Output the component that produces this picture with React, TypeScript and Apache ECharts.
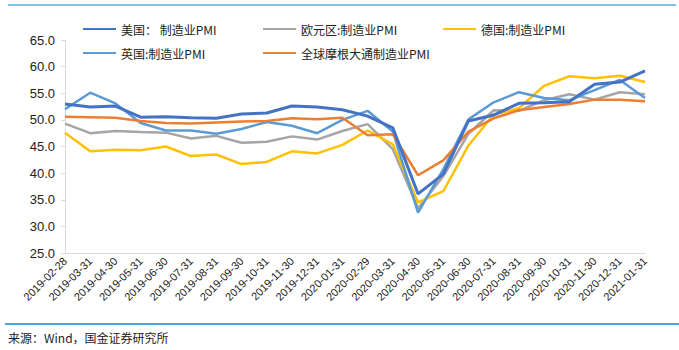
import React, { useEffect, useRef } from "react";
import * as echarts from "echarts";

const categories = [
  "2019-02-28", "2019-03-31", "2019-04-30", "2019-05-31", "2019-06-30", "2019-07-31",
  "2019-08-31", "2019-09-30", "2019-10-31", "2019-11-30", "2019-12-31", "2020-01-31",
  "2020-02-29", "2020-03-31", "2020-04-30", "2020-05-31", "2020-06-30", "2020-07-31",
  "2020-08-31", "2020-09-30", "2020-10-31", "2020-11-30", "2020-12-31", "2021-01-31",
];

const usPMI = [53.0, 52.4, 52.6, 50.5, 50.6, 50.4, 50.3, 51.1, 51.3, 52.6, 52.4, 51.9, 50.7, 48.5, 36.1, 39.8, 49.8, 50.9, 53.1, 53.2, 53.4, 56.7, 57.1, 59.2];
const euroPMI = [49.3, 47.5, 47.9, 47.7, 47.6, 46.5, 47.0, 45.7, 45.9, 46.9, 46.3, 47.9, 49.2, 44.5, 33.4, 39.4, 47.4, 51.8, 51.7, 53.7, 54.8, 53.8, 55.2, 54.8];
const dePMI = [47.6, 44.1, 44.4, 44.3, 45.0, 43.2, 43.5, 41.7, 42.1, 44.1, 43.7, 45.3, 48.0, 45.4, 34.5, 36.6, 45.2, 51.0, 52.2, 56.4, 58.2, 57.8, 58.3, 57.1];
const ukPMI = [52.0, 55.1, 53.1, 49.4, 48.0, 48.0, 47.4, 48.3, 49.6, 48.9, 47.5, 50.0, 51.7, 47.8, 32.6, 40.7, 50.1, 53.3, 55.2, 54.1, 53.7, 55.6, 57.5, 54.1];
const globalPMI = [50.6, 50.5, 50.4, 49.8, 49.4, 49.3, 49.5, 49.7, 49.8, 50.3, 50.1, 50.4, 47.1, 47.3, 39.6, 42.4, 47.8, 50.3, 51.8, 52.4, 53.0, 53.8, 53.8, 53.5];

const seriesNames = ["美国： 制造业PMI", "欧元区:制造业PMI", "德国:制造业PMI", "英国:制造业PMI", "全球摩根大通制造业PMI"];
const seriesColors = ["#4472C4", "#A5A5A5", "#FFC000", "#5B9BD5", "#ED7D31"];
const seriesData = [usPMI, euroPMI, dePMI, ukPMI, globalPMI];
const sourceText = "来源：Wind，国金证券研究所";

export default function App() {
  const ref = useRef<HTMLDivElement>(null);
  useEffect(() => {
    if (!ref.current) return;
    const chart = echarts.init(ref.current, null, { renderer: "svg" });
    const legendBase = {
      orient: "vertical",
      top: 18,
      itemWidth: 33,
      itemHeight: 12,
      itemGap: 12,
      itemStyle: { opacity: 0 },
      textStyle: { fontSize: 12, color: "#222", fontFamily: "Noto Sans CJK SC, Liberation Sans, sans-serif" },
      selectedMode: false,
    };
    chart.setOption({
      animation: false,
      backgroundColor: "#fff",
      legend: [
        { ...legendBase, left: 77, data: [seriesNames[0], seriesNames[3]] },
        { ...legendBase, left: 257, data: [seriesNames[1], seriesNames[4]] },
        { ...legendBase, left: 437, data: [seriesNames[2]] },
      ],
      grid: { left: 65, right: 34, top: 40, bottom: 97 },
      xAxis: {
        type: "category",
        data: categories,
        boundaryGap: false,
        axisLine: { lineStyle: { color: "#d9d9d9", width: 1 } },
        axisTick: { show: false },
        axisLabel: {
          rotate: 45,
          interval: 0,
          fontSize: 11,
          color: "#222",
          fontFamily: "Liberation Sans, Arial, sans-serif",
          margin: 6,
        },
      },
      yAxis: {
        type: "value",
        min: 25,
        max: 65,
        interval: 5,
        axisLine: { show: true, lineStyle: { color: "#d9d9d9", width: 1 } },
        axisTick: { show: true, length: 4, lineStyle: { color: "#d9d9d9" } },
        splitLine: { show: false },
        axisLabel: {
          formatter: (v: number) => v.toFixed(1),
          fontSize: 13,
          color: "#222",
          fontFamily: "Liberation Sans, Arial, sans-serif",
          margin: 10,
        },
      },
      series: seriesNames.map((name, i) => ({
        name,
        type: "line",
        data: seriesData[i],
        symbol: "none",
        color: seriesColors[i],
        lineStyle: { width: i === 0 ? 3 : 2.5, color: seriesColors[i] },
        z: i === 0 ? 5 : 3,
      })),
      graphic: [
        { type: "line", shape: { x1: 8, y1: 5, x2: 676, y2: 5 }, style: { stroke: "#5aafe0", lineWidth: 1.5 } },
        { type: "line", shape: { x1: 5, y1: 324, x2: 679, y2: 324 }, style: { stroke: "#4ea7dc", lineWidth: 2 } },
        {
          type: "text",
          left: 8,
          top: 331,
          style: { text: sourceText, fontSize: 12, fill: "#222", fontFamily: "Noto Sans CJK SC, Liberation Sans, sans-serif" },
        },
      ],
    });
    return () => chart.dispose();
  }, []);
  return <div ref={ref} style={{ position: "fixed", left: 0, top: 0, width: 679, height: 350 }} />;
}
